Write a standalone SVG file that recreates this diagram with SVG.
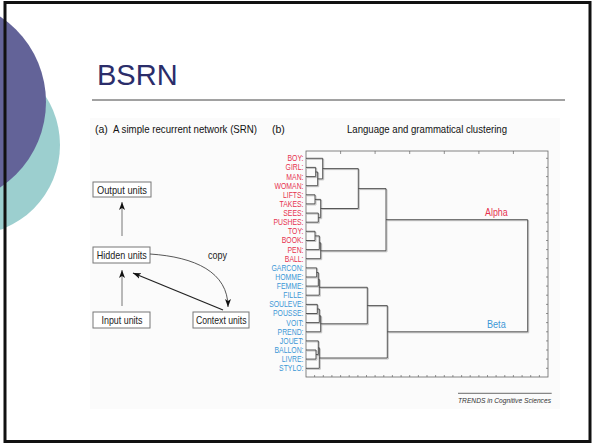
<svg xmlns="http://www.w3.org/2000/svg" width="592" height="444" viewBox="0 0 592 444">
<style>
.f{font-family:"Liberation Sans",Arial,sans-serif}
.box{fill:#fff;stroke:#777;stroke-width:1}
.bl{font-family:"Liberation Sans",Arial,sans-serif;font-size:10.5px;fill:#222}
.hd{font-family:"Liberation Sans",Arial,sans-serif;font-size:10.5px;fill:#111}
.lr{fill:#e6324f}
.lb{fill:#3b97d6}
.lab{font-family:"Liberation Sans",Arial,sans-serif;font-size:8.6px;text-anchor:end}
.den{fill:none;stroke:#444;stroke-width:0.9}
.sh{fill:none;stroke:#bbb;stroke-width:0.9}
.tk{stroke:#666;stroke-width:0.7}
</style>
<defs>
<marker id="ah" markerUnits="userSpaceOnUse" markerWidth="9" markerHeight="7" refX="8" refY="3" orient="auto">
<path d="M0,0 L8,3 L0,6 L2,3 z" fill="#111"/>
</marker>
</defs>
<rect x="0" y="0" width="592" height="444" fill="#fff"/>
<circle cx="-30" cy="145" r="90" fill="#9ccfcf"/>
<circle cx="-56.5" cy="102" r="102.5" fill="#636398"/>
<rect x="5" y="2.5" width="585" height="439" fill="none" stroke="#111" stroke-width="3"/>
<text x="97" y="85" class="f" font-size="29" fill="#2b2d6a">BSRN</text>
<line x1="92" y1="100" x2="565" y2="100" stroke="#444" stroke-width="1"/>
<rect x="90" y="118" width="470" height="291" fill="#fbfbfb"/>
<text x="95" y="133" class="hd">(a)</text>
<text x="113" y="133" class="hd" font-size="10" textLength="144" lengthAdjust="spacingAndGlyphs">A simple recurrent network (SRN)</text>
<text x="272" y="133" class="hd">(b)</text>
<text x="347" y="133" class="hd" textLength="160" lengthAdjust="spacingAndGlyphs">Language and grammatical clustering</text>

<g id="output-units"><rect class="box" x="93" y="182" width="58" height="15"/><text class="bl" x="97" y="193.5" textLength="50" lengthAdjust="spacingAndGlyphs">Output units</text></g>
<g id="hidden-units"><rect class="box" x="93" y="247" width="57" height="16"/><text class="bl" x="96.7" y="258.5" textLength="50" lengthAdjust="spacingAndGlyphs">Hidden units</text></g>
<g id="input-units"><rect class="box" x="93" y="312" width="57" height="16"/><text class="bl" x="101.5" y="323.5" textLength="41" lengthAdjust="spacingAndGlyphs">Input units</text></g>
<g id="context-units"><rect class="box" x="193" y="312" width="56" height="16"/><text class="bl" x="196" y="323.5" textLength="50.5" lengthAdjust="spacingAndGlyphs">Context units</text></g>

<g id="connectors" fill="none">
<line x1="122" y1="236" x2="122" y2="202" stroke="#666" stroke-width="0.9" marker-end="url(#ah)"/>
<line x1="122" y1="306" x2="122" y2="270" stroke="#666" stroke-width="0.9" marker-end="url(#ah)"/>
<line x1="223" y1="310" x2="133" y2="273" stroke="#222" stroke-width="1.3" marker-end="url(#ah)"/>
<path d="M150,254 C195,257 228,272 228,307" stroke="#444" stroke-width="0.9" marker-end="url(#ah)"/>
<text x="208" y="259" class="f" font-size="10" fill="#222" textLength="19" lengthAdjust="spacingAndGlyphs">copy</text>
</g>

<g id="dendrogram">
<rect x="306" y="151" width="242" height="226" fill="none" stroke="#666" stroke-width="0.8"/>
<g class="tk">
<line x1="340.6" y1="151" x2="340.6" y2="154"/><line x1="375.1" y1="151" x2="375.1" y2="154"/><line x1="409.7" y1="151" x2="409.7" y2="154"/><line x1="444.3" y1="151" x2="444.3" y2="154"/><line x1="478.9" y1="151" x2="478.9" y2="154"/><line x1="513.4" y1="151" x2="513.4" y2="154"/>
<line x1="314.6" y1="377" x2="314.6" y2="375"/><line x1="323.3" y1="377" x2="323.3" y2="375"/><line x1="331.9" y1="377" x2="331.9" y2="375"/><line x1="340.6" y1="377" x2="340.6" y2="375"/><line x1="349.2" y1="377" x2="349.2" y2="375"/><line x1="357.9" y1="377" x2="357.9" y2="375"/><line x1="366.5" y1="377" x2="366.5" y2="375"/><line x1="375.1" y1="377" x2="375.1" y2="375"/><line x1="383.8" y1="377" x2="383.8" y2="375"/><line x1="392.4" y1="377" x2="392.4" y2="375"/><line x1="401.1" y1="377" x2="401.1" y2="375"/><line x1="409.7" y1="377" x2="409.7" y2="375"/><line x1="418.4" y1="377" x2="418.4" y2="375"/><line x1="427" y1="377" x2="427" y2="375"/><line x1="435.6" y1="377" x2="435.6" y2="375"/><line x1="444.3" y1="377" x2="444.3" y2="375"/><line x1="452.9" y1="377" x2="452.9" y2="375"/><line x1="461.6" y1="377" x2="461.6" y2="375"/><line x1="470.2" y1="377" x2="470.2" y2="375"/><line x1="478.9" y1="377" x2="478.9" y2="375"/><line x1="487.5" y1="377" x2="487.5" y2="375"/><line x1="496.1" y1="377" x2="496.1" y2="375"/><line x1="504.8" y1="377" x2="504.8" y2="375"/><line x1="513.4" y1="377" x2="513.4" y2="375"/><line x1="522.1" y1="377" x2="522.1" y2="375"/><line x1="530.7" y1="377" x2="530.7" y2="375"/><line x1="539.4" y1="377" x2="539.4" y2="375"/>
<line x1="548" y1="158.3" x2="546" y2="158.3"/><line x1="548" y1="167.4" x2="546" y2="167.4"/><line x1="548" y1="176.6" x2="546" y2="176.6"/><line x1="548" y1="185.7" x2="546" y2="185.7"/><line x1="548" y1="194.8" x2="546" y2="194.8"/><line x1="548" y1="203.9" x2="546" y2="203.9"/><line x1="548" y1="213.1" x2="546" y2="213.1"/><line x1="548" y1="222.2" x2="546" y2="222.2"/><line x1="548" y1="231.3" x2="546" y2="231.3"/><line x1="548" y1="240.5" x2="546" y2="240.5"/><line x1="548" y1="249.6" x2="546" y2="249.6"/><line x1="548" y1="258.7" x2="546" y2="258.7"/><line x1="548" y1="267.9" x2="546" y2="267.9"/><line x1="548" y1="277" x2="546" y2="277"/><line x1="548" y1="286.1" x2="546" y2="286.1"/><line x1="548" y1="295.2" x2="546" y2="295.2"/><line x1="548" y1="304.4" x2="546" y2="304.4"/><line x1="548" y1="313.5" x2="546" y2="313.5"/><line x1="548" y1="322.6" x2="546" y2="322.6"/><line x1="548" y1="331.8" x2="546" y2="331.8"/><line x1="548" y1="340.9" x2="546" y2="340.9"/><line x1="548" y1="350" x2="546" y2="350"/><line x1="548" y1="359.1" x2="546" y2="359.1"/><line x1="548" y1="368.3" x2="546" y2="368.3"/>
</g>
<path class="sh" transform="translate(1,1)" d="M306 167.4 H315.7 V176.6 H306 M315.7 172 H317.7 V185.7 H306 M306 158.3 H322.7 V178.9 H317.7 M306 194.8 H315 V203.9 H306 M306 213.1 H318.3 V222.2 H306 M315 199.4 H320.7 V217.7 H318.3 M322.7 168.6 H358.3 V208.5 H320.7 M306 231.3 H315 V240.5 H306 M315 235.9 H319.3 V249.6 H306 M319.3 242.8 H320.7 V258.7 H306 M358.3 188.6 H386 V250.8 H320.7 M306 267.9 H316.7 V277 H306 M316.7 272.5 H318.3 V286.1 H306 M318.3 279.3 H319.3 V295.2 H306 M306 304.4 H317.3 V313.5 H306 M317.3 309 H319.3 V322.6 H306 M319.3 315.8 H320.7 V331.8 H306 M319.3 287.3 H367.3 V323.8 H320.7 M306 350 H316 V359.1 H306 M306 340.9 H318.3 V354.6 H316 M318.3 347.8 H319.3 V368.3 H306 M367.3 305.6 H387.3 V358 H319.3 M386 219.7 H527.7 V331.8 H387.3"/>
<path class="den" d="M306 167.4 H315.7 V176.6 H306 M315.7 172 H317.7 V185.7 H306 M306 158.3 H322.7 V178.9 H317.7 M306 194.8 H315 V203.9 H306 M306 213.1 H318.3 V222.2 H306 M315 199.4 H320.7 V217.7 H318.3 M322.7 168.6 H358.3 V208.5 H320.7 M306 231.3 H315 V240.5 H306 M315 235.9 H319.3 V249.6 H306 M319.3 242.8 H320.7 V258.7 H306 M358.3 188.6 H386 V250.8 H320.7 M306 267.9 H316.7 V277 H306 M316.7 272.5 H318.3 V286.1 H306 M318.3 279.3 H319.3 V295.2 H306 M306 304.4 H317.3 V313.5 H306 M317.3 309 H319.3 V322.6 H306 M319.3 315.8 H320.7 V331.8 H306 M319.3 287.3 H367.3 V323.8 H320.7 M306 350 H316 V359.1 H306 M306 340.9 H318.3 V354.6 H316 M318.3 347.8 H319.3 V368.3 H306 M367.3 305.6 H387.3 V358 H319.3 M386 219.7 H527.7 V331.8 H387.3"/>
<g class="lab" transform="translate(303.5 0) scale(0.8 1)">
<text class="lr" x="0" y="161.3">BOY:</text>
<text class="lr" x="0" y="170.4">GIRL:</text>
<text class="lr" x="0" y="179.6">MAN:</text>
<text class="lr" x="0" y="188.7">WOMAN:</text>
<text class="lr" x="0" y="197.8">LIFTS:</text>
<text class="lr" x="0" y="206.9">TAKES:</text>
<text class="lr" x="0" y="216.1">SEES:</text>
<text class="lr" x="0" y="225.2">PUSHES:</text>
<text class="lr" x="0" y="234.3">TOY:</text>
<text class="lr" x="0" y="243.5">BOOK:</text>
<text class="lr" x="0" y="252.6">PEN:</text>
<text class="lr" x="0" y="261.7">BALL:</text>
<text class="lb" x="0" y="270.9">GARCON:</text>
<text class="lb" x="0" y="280">HOMME:</text>
<text class="lb" x="0" y="289.1">FEMME:</text>
<text class="lb" x="0" y="298.2">FILLE:</text>
<text class="lb" x="0" y="307.4">SOULEVE:</text>
<text class="lb" x="0" y="316.5">POUSSE:</text>
<text class="lb" x="0" y="325.6">VOIT:</text>
<text class="lb" x="0" y="334.8">PREND:</text>
<text class="lb" x="0" y="343.9">JOUET:</text>
<text class="lb" x="0" y="353">BALLON:</text>
<text class="lb" x="0" y="362.1">LIVRE:</text>
<text class="lb" x="0" y="371.3">STYLO:</text>
</g>
<text x="485" y="216" class="f lr" font-size="10.5" textLength="22.7" lengthAdjust="spacingAndGlyphs">Alpha</text>
<text x="487" y="328" class="f lb" font-size="10.5" textLength="18.7" lengthAdjust="spacingAndGlyphs">Beta</text>
</g>

<line x1="458" y1="393.3" x2="551.7" y2="393.3" stroke="#444" stroke-width="0.8"/>
<text x="458" y="403" class="f" font-size="8" font-style="italic" fill="#333" textLength="93" lengthAdjust="spacingAndGlyphs">TRENDS in Cognitive Sciences</text>
</svg>
